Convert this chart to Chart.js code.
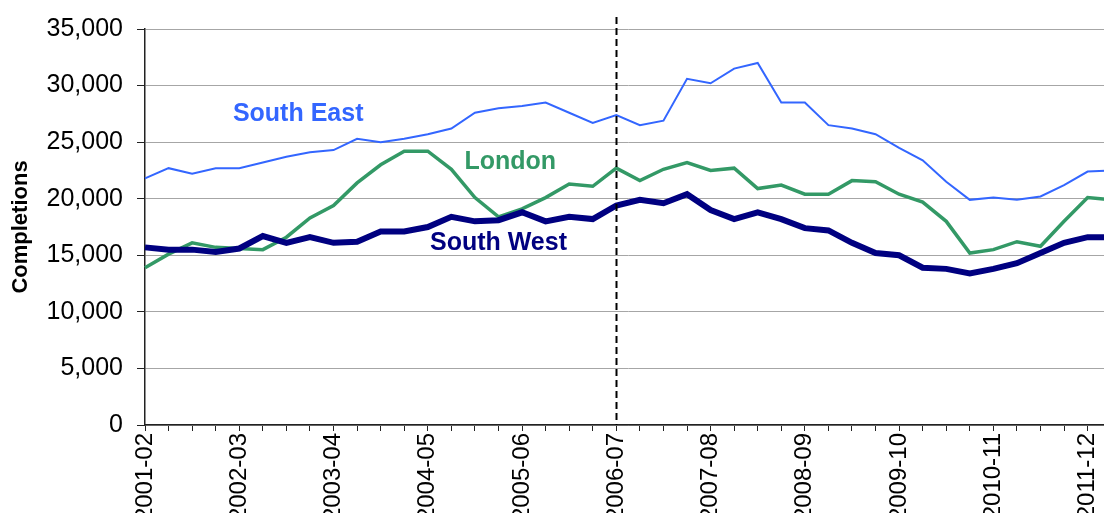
<!DOCTYPE html>
<html>
<head>
<meta charset="utf-8">
<title>Completions by region</title>
<script src="https://cdn.jsdelivr.net/npm/chart.js@4"></script>
<style>
  html, body { margin: 0; padding: 0; background: #fff; overflow: hidden; }
  #wrap { width: 1104px; height: 513px; overflow: hidden; }
</style>
</head>
<body>
<div id="wrap"><canvas id="chart" width="1142" height="513"></canvas></div>
<script>
// financial years, each followed by three unlabelled quarters
const yearLabels = ['2001-02', '2002-03', '2003-04', '2004-05', '2005-06', '2006-07',
    '2007-08', '2008-09', '2009-10', '2010-11', '2011-12'];

const southEast = [21800, 22700, 22200, 22700, 22700, 23200, 23700, 24100, 24300, 25300,
    25000, 25300, 25700, 26200, 27600, 28000, 28200, 28500, 27600, 26700,
    27400, 26500, 26900, 30600, 30200, 31500, 32000, 28500, 28500, 26500,
    26200, 25700, 24500, 23400, 21500, 19900, 20100, 19900, 20200, 21200,
    22400, 22500];

const london = [13900, 15100, 16100, 15700, 15600, 15500, 16600, 18300, 19400, 21400,
    23000, 24200, 24200, 22600, 20100, 18400, 19100, 20100, 21300, 21100,
    22700, 21600, 22600, 23200, 22500, 22700, 20900, 21200, 20400, 20400,
    21600, 21500, 20400, 19700, 18000, 15200, 15500, 16200, 15800, 18000,
    20100, 19900];

const southWest = [15700, 15500, 15500, 15300, 15600, 16700, 16100, 16600, 16100, 16200,
    17100, 17100, 17500, 18400, 18000, 18100, 18800, 18000, 18400, 18200,
    19400, 19900, 19600, 20400, 19000, 18200, 18800, 18200, 17400, 17200,
    16100, 15200, 15000, 13900, 13800, 13400, 13800, 14300, 15200, 16100,
    16600, 16600];

// where the series names sit: [category index, value]
const seriesNames = ['South East', 'London', 'South West'];
const nameAnchors = [[6.5, 27500], [15.5, 23200], [15.0, 16100]];
const colours = ['#3366ff', '#339966', '#000080'];
const dividerIndex = 20; // 2006-07

const FONT = "'Liberation Sans', Arial, Helvetica, sans-serif";

const labels = [];
yearLabels.forEach(y => { labels.push(y, '', '', ''); });
labels.length = southEast.length;

const overlay = {
    id: 'overlay',
    afterDatasetsDraw(chart) {
        const { ctx, chartArea, scales: { x, y } } = chart;
        // dashed divider
        const dx = Math.round(x.getPixelForValue(dividerIndex)) + 0.5;
        ctx.save();
        ctx.strokeStyle = '#000';
        ctx.lineWidth = 2;
        ctx.setLineDash([7, 4]);
        ctx.beginPath();
        ctx.moveTo(dx, chartArea.top - 12);
        ctx.lineTo(dx, chartArea.bottom);
        ctx.stroke();
        ctx.restore();

        // series names
        ctx.save();
        ctx.font = `bold 25px ${FONT}`;
        ctx.textAlign = 'center';
        ctx.textBaseline = 'middle';
        seriesNames.forEach((name, i) => {
            ctx.fillStyle = colours[i];
            ctx.fillText(name, x.getPixelForValue(nameAnchors[i][0]), y.getPixelForValue(nameAnchors[i][1]));
        });
        ctx.restore();
    }
};

new Chart(document.getElementById('chart'), {
    type: 'line',
    data: {
        labels: labels,
        datasets: [
            { label: 'South East', data: southEast, borderColor: colours[0], borderWidth: 2, order: 2 },
            { label: 'London', data: london, borderColor: colours[1], borderWidth: 3.5, order: 1 },
            { label: 'South West', data: southWest, borderColor: colours[2], borderWidth: 6, order: 0 }
        ]
    },
    options: {
        responsive: false,
        animation: false,
        events: [],
        layout: { padding: { top: 27, right: 12, left: 0, bottom: 0 } },
        elements: {
            point: { radius: 0 },
            line: { tension: 0, fill: false, borderJoinStyle: 'miter' }
        },
        plugins: { legend: { display: false }, tooltip: { enabled: false } },
        scales: {
            x: {
                offset: false,
                grid: { drawOnChartArea: false, drawTicks: true, tickLength: 6, tickColor: '#222', lineWidth: 1 },
                border: { color: '#222', width: 1.5 },
                ticks: {
                    autoSkip: false,
                    maxRotation: 90,
                    minRotation: 90,
                    padding: 2,
                    color: '#000',
                    font: { family: FONT, size: 24 }
                },
                afterFit(scale) { scale.height = 88; }
            },
            y: {
                min: 0,
                max: 35000,
                grid: { color: '#a6a6a6', lineWidth: 1, tickLength: 8, tickColor: '#222' },
                border: { color: '#222', width: 1.5 },
                ticks: {
                    stepSize: 5000,
                    padding: 14,
                    color: '#000',
                    font: { family: FONT, size: 25 },
                    callback: v => v.toLocaleString('en-US')
                },
                title: {
                    display: true,
                    text: 'Completions',
                    color: '#000',
                    padding: { top: 8, bottom: 0 },
                    font: { family: FONT, size: 22, weight: 'bold' }
                },
                afterFit(scale) { scale.width = 145; }
            }
        }
    },
    plugins: [overlay]
});
</script>
</body>
</html>
